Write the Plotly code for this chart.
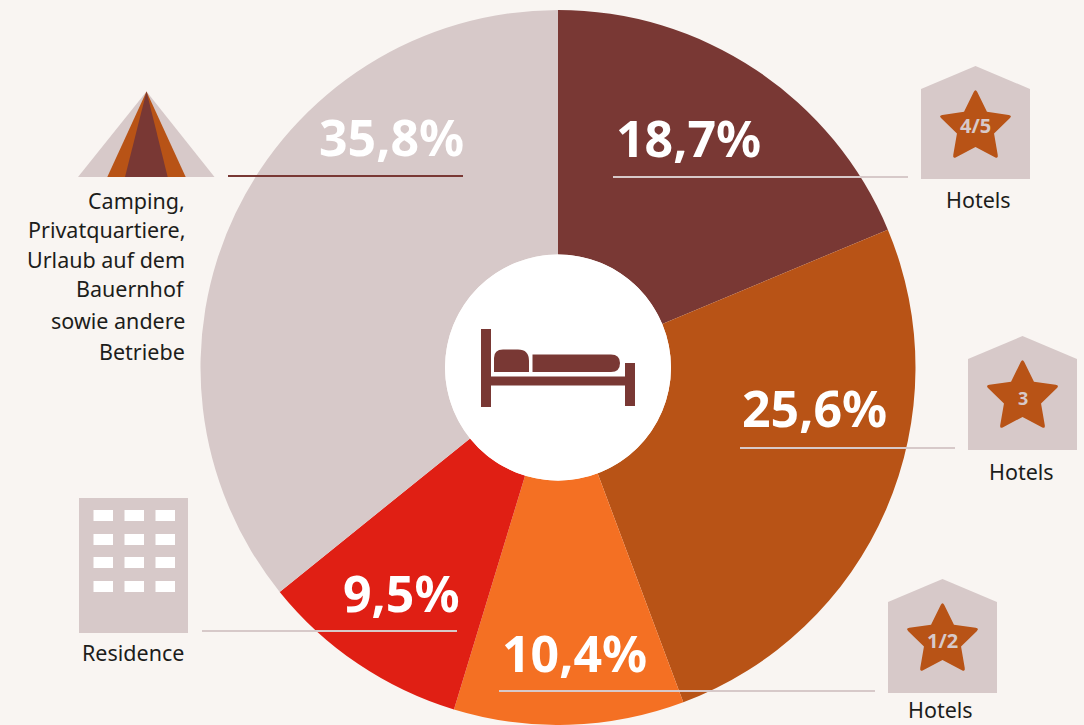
from __future__ import annotations

import math

import plotly.graph_objects as go

WIDTH = 1084
HEIGHT = 725

BG = "#f9f5f2"
LIGHT = "#d7c9c9"
DARK = "#793834"
BROWN = "#b85316"
ORANGE = "#f47023"
RED = "#e01f14"

categories = ["Hotels 4/5", "Hotels 3", "Hotels 1/2", "Residence", "Camping"]
shares = [18.7, 25.6, 10.4, 9.5, 35.8]
slice_colors = [DARK, BROWN, ORANGE, RED, LIGHT]
camping_lines = [
    "Camping,",
    "Privatquartiere,",
    "Urlaub auf dem",
    "Bauernhof",
    "sowie andere",
    "Betriebe",
]


def px(x: float) -> float:
    return x / WIDTH


def py(y: float) -> float:
    return 1 - y / HEIGHT


def poly(points: list[tuple[float, float]]) -> str:
    return "M" + " L".join(f"{px(x):.5f},{py(y):.5f}" for x, y in points) + " Z"


def star_path(cx: float, cy: float, radius: float) -> str:
    """Five point star with slightly rounded tips."""
    pts = []
    for i in range(10):
        r = radius if i % 2 == 0 else radius * 0.5
        a = math.radians(-90 + 36 * i)
        pts.append((cx + r * math.cos(a), cy + r * math.sin(a)))
    parts = []
    for i, (x, y) in enumerate(pts):
        if i % 2 == 0:
            px0, py0 = pts[i - 1]
            nx, ny = pts[(i + 1) % 10]
            d0 = math.hypot(px0 - x, py0 - y)
            d1 = math.hypot(nx - x, ny - y)
            cut = 4
            a0 = (x + (px0 - x) * cut / d0, y + (py0 - y) * cut / d0)
            a1 = (x + (nx - x) * cut / d1, y + (ny - y) * cut / d1)
            cmd = "M" if i == 0 else "L"
            parts.append(f"{cmd}{px(a0[0]):.5f},{py(a0[1]):.5f}")
            parts.append(f"Q{px(x):.5f},{py(y):.5f} {px(a1[0]):.5f},{py(a1[1]):.5f}")
        else:
            parts.append(f"L{px(x):.5f},{py(y):.5f}")
    return " ".join(parts) + " Z"


def path_shape(path: str, color: str) -> dict:
    return dict(type="path", xref="paper", yref="paper", path=path,
                fillcolor=color, line=dict(width=0))


def rect_shape(x0: float, y0: float, x1: float, y1: float, color: str) -> dict:
    return dict(type="rect", xref="paper", yref="paper", x0=px(x0), x1=px(x1),
                y0=py(y0), y1=py(y1), fillcolor=color, line=dict(width=0))


def leader(x0: float, x1: float, y: float, color: str = LIGHT) -> dict:
    return dict(type="line", xref="paper", yref="paper", x0=px(x0), x1=px(x1),
                y0=py(y), y1=py(y), line=dict(color=color, width=2))


def text(x: float, y: float, label: str, size: float, color: str = "#1d1d1b",
         anchor: str = "center", weight: str = "normal") -> dict:
    return dict(xref="paper", yref="paper", x=px(x), y=py(y), text=label,
                showarrow=False, xanchor=anchor, yanchor="middle",
                font=dict(family="Noto Sans", size=size, color=color, weight=weight))


shapes = []

# centre disc and bed
shapes.append(dict(type="circle", xref="paper", yref="paper", x0=px(445), x1=px(671),
                   y0=py(254.5), y1=py(480.5), fillcolor="white", line=dict(width=0)))
shapes.append(rect_shape(481, 329, 491, 407, DARK))
shapes.append(rect_shape(490, 376.5, 626, 385.5, DARK))
shapes.append(rect_shape(625, 363, 635, 406, DARK))
shapes.append(path_shape(
    f"M{px(494)},{py(372)} L{px(494)},{py(358)} Q{px(494)},{py(349.5)} {px(503)},{py(349.5)} "
    f"L{px(518)},{py(349.5)} Q{px(529)},{py(349.5)} {px(529)},{py(361)} L{px(529)},{py(372)} Z",
    DARK))
shapes.append(path_shape(
    f"M{px(532.5)},{py(372)} L{px(532.5)},{py(354.5)} L{px(611)},{py(354.5)} "
    f"Q{px(620)},{py(354.5)} {px(620)},{py(363)} Q{px(620)},{py(372)} {px(611)},{py(372)} Z",
    DARK))

# tent
shapes.append(path_shape(poly([(146.5, 91.5), (214.5, 177), (78, 177)]), LIGHT))
shapes.append(path_shape(poly([(146.5, 91.5), (185.7, 177), (107.3, 177)]), BROWN))
shapes.append(path_shape(poly([(146.5, 91.5), (167.7, 177), (125, 177)]), DARK))

# hotel houses with stars
for left, apex, shoulder, bottom, star_y in [
    (921, 66, 89, 179, 127.5),
    (968, 336, 359, 450, 397.5),
    (888, 579, 602, 693, 640.5),
]:
    mid = left + 54.5
    shapes.append(path_shape(poly([(left, shoulder), (mid, apex), (left + 109, shoulder),
                                   (left + 109, bottom), (left, bottom)]), LIGHT))
    shapes.append(path_shape(star_path(mid, star_y, 39), BROWN))

# residence building
shapes.append(rect_shape(79, 498, 188, 633, LIGHT))
for wy in [510, 534, 557, 581]:
    for wx in [93.5, 124.5, 155.5]:
        shapes.append(rect_shape(wx, wy, wx + 19.5, wy + 11, "white"))

# leader lines
shapes.append(leader(228, 463, 176, DARK))
shapes.append(leader(613, 908, 177))
shapes.append(leader(740, 955, 448))
shapes.append(leader(202, 457, 631))
shapes.append(leader(499, 875, 691))

# percent labels, same order as the slices
label_xy = [(688, 138), (814, 408), (574, 653), (401, 593), (391, 137)]
annotations = []
for value, (lx, ly) in zip(shares, label_xy):
    annotations.append(text(lx, ly, f"{value:.1f}".replace(".", ",") + "%", 50,
                            "white", weight="bold"))

for line, ly in zip(camping_lines, [200, 230, 259, 288, 320, 351]):
    annotations.append(text(187, ly, line, 21.5, anchor="right"))
annotations.append(text(978, 199, "Hotels", 21.5))
annotations.append(text(1021, 471, "Hotels", 21.5))
annotations.append(text(940, 709, "Hotels", 21.5))
annotations.append(text(133, 652, "Residence", 21.5))
annotations.append(text(975.5, 126, "4/5", 20, LIGHT, weight="bold"))
annotations.append(text(1022.5, 398, "3", 18, LIGHT, weight="bold"))
annotations.append(text(942.5, 640, "1/2", 20, LIGHT, weight="bold"))

fig = go.Figure(
    go.Pie(
        labels=categories,
        values=shares,
        sort=False,
        direction="clockwise",
        rotation=0,
        hole=0.316,
        textinfo="none",
        marker=dict(colors=slice_colors, line=dict(width=0)),
        domain=dict(x=[px(200), px(916)], y=[0, py(10)]),
        showlegend=False,
    )
)
fig.update_layout(
    width=WIDTH,
    height=HEIGHT,
    margin=dict(l=0, r=0, t=0, b=0),
    paper_bgcolor=BG,
    plot_bgcolor=BG,
    shapes=shapes,
    annotations=annotations,
)
# page body has a default margin, drop it so the figure fills the window
fig.write_html(
    "out.html",
    config=dict(displayModeBar=False),
    post_script="document.body.style.margin='0';document.body.style.overflow='hidden';",
)
